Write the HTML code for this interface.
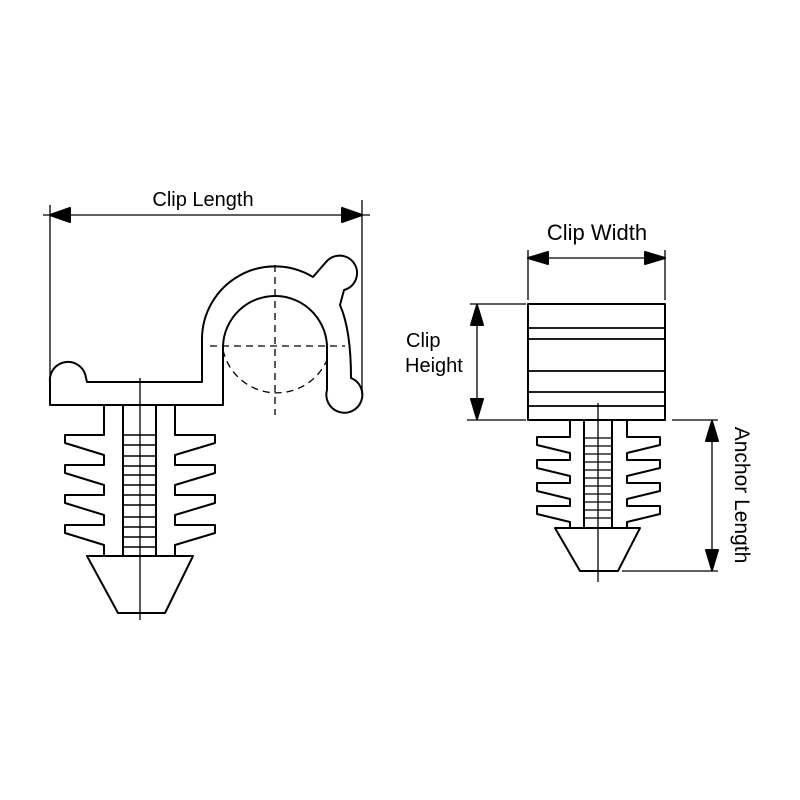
<!DOCTYPE html>
<html><head><style>html,body{margin:0;padding:0;background:#fff}svg{display:block}</style></head>
<body>
<svg width="800" height="800" viewBox="0 0 800 800" xmlns="http://www.w3.org/2000/svg">
<g fill="none" stroke="#000" stroke-width="2" stroke-linejoin="round">
<!-- Left view dimension -->
<line x1="50" y1="205" x2="50" y2="405" stroke-width="1.3"/>
<line x1="362" y1="200" x2="362" y2="395" stroke-width="1.3"/>
<line x1="43" y1="215" x2="370" y2="215" stroke-width="1.3"/>
<polygon points="50,215 70,208 70,222" fill="#000"/>
<polygon points="362,215 342,208 342,222" fill="#000"/>
<!-- Clip body -->
<path d="M50,405 L50,382 A18,18 0 1 1 86,378 L87,382 L202,382 L202,340 A73,73 0 0 1 313,277 L326,262 A17.5,17.5 0 1 1 344,290 L340,305 Q351,330 351,378 A18,18 0 1 1 327,390 L327,350 A52,52 0 0 0 223,346 L223,405 Z"/>
<g stroke-width="1.3" stroke-dasharray="7,5">
<path d="M223,350 A55,55 0 0 0 327,360"/>
<line x1="210" y1="346" x2="345" y2="346"/>
<line x1="275" y1="265" x2="275" y2="415"/>
</g>
<!-- anchor left -->
<path d="M104,405 L104,435 L65,435 L65,443 L104,455 L104,465 L65,465 L65,473 L104,485 L104,495 L65,495 L65,503 L104,515 L104,525 L65,525 L65,533 L104,545 L104,556"/>
<path d="M175,405 L175,435 L215,435 L215,443 L175,455 L175,465 L215,465 L215,473 L175,485 L175,495 L215,495 L215,503 L175,515 L175,525 L215,525 L215,533 L175,545 L175,556"/>
<line x1="123" y1="405" x2="123" y2="556"/>
<line x1="156" y1="405" x2="156" y2="556"/>
<path d="M123,435 H156 M123,445 H156 M123,456 H156 M123,466 H156 M123,475 H156 M123,485 H156 M123,495 H156 M123,505 H156 M123,517 H156 M123,527 H156 M123,537 H156 M123,547 H156" stroke-width="1.5"/>
<polygon points="87,556 193,556 165,613 118,613"/>
<line x1="140" y1="378" x2="140" y2="620" stroke-width="1.3"/>
<!-- Right view -->
<line x1="528" y1="250" x2="528" y2="300" stroke-width="1.3"/>
<line x1="665" y1="250" x2="665" y2="300" stroke-width="1.3"/>
<line x1="528" y1="258" x2="665" y2="258" stroke-width="1.3"/>
<polygon points="528,258 548,252 548,264" fill="#000"/>
<polygon points="665,258 645,252 645,264" fill="#000"/>
<rect x="528" y="304" width="137" height="116"/>
<path d="M528,328 H665 M528,339 H665 M528,371 H665 M528,392 H665 M528,406 H665" stroke-width="1.7"/>
<line x1="470" y1="304" x2="526" y2="304" stroke-width="1.3"/>
<line x1="467" y1="420" x2="526" y2="420" stroke-width="1.3"/>
<line x1="477" y1="304" x2="477" y2="420" stroke-width="1.3"/>
<polygon points="477,305 471,325 483,325" fill="#000"/>
<polygon points="477,419 471,399 483,399" fill="#000"/>
<line x1="672" y1="420" x2="718" y2="420" stroke-width="1.3"/>
<line x1="622" y1="571" x2="718" y2="571" stroke-width="1.3"/>
<line x1="712" y1="420" x2="712" y2="571" stroke-width="1.3"/>
<polygon points="712,421 706,441 718,441" fill="#000"/>
<polygon points="712,570 706,550 718,550" fill="#000"/>
<!-- anchor right -->
<path d="M570,420 L570,437 L537,437 L537,445 L570,453 L570,460 L537,460 L537,468 L570,476 L570,483 L537,483 L537,491 L570,499 L570,506 L537,506 L537,514 L570,522 L570,528"/>
<path d="M627,420 L627,437 L660,437 L660,445 L627,453 L627,460 L660,460 L660,468 L627,476 L627,483 L660,483 L660,491 L627,499 L627,506 L660,506 L660,514 L627,522 L627,528"/>
<line x1="584" y1="420" x2="584" y2="528"/>
<line x1="612" y1="420" x2="612" y2="528"/>
<path d="M584,438 H612 M584,446 H612 M584,454 H612 M584,462 H612 M584,470 H612 M584,478 H612 M584,486 H612 M584,494 H612 M584,502 H612 M584,510 H612 M584,518 H612" stroke-width="1.3"/>
<polygon points="555,528 640,528 618,571 580,571"/>
<line x1="598" y1="403" x2="598" y2="582" stroke-width="1.3"/>
</g>
<g font-family="Liberation Sans, Arial, sans-serif" fill="#000">
<text x="203" y="206" font-size="20" text-anchor="middle">Clip Length</text>
<text x="597" y="240" font-size="22" text-anchor="middle">Clip Width</text>
<text x="406" y="347" font-size="20">Clip</text>
<text x="405" y="372" font-size="20">Height</text>
<text x="0" y="0" font-size="21" text-anchor="middle" transform="translate(735,495) rotate(90)">Anchor Length</text>
</g>
</svg>
</body></html>
